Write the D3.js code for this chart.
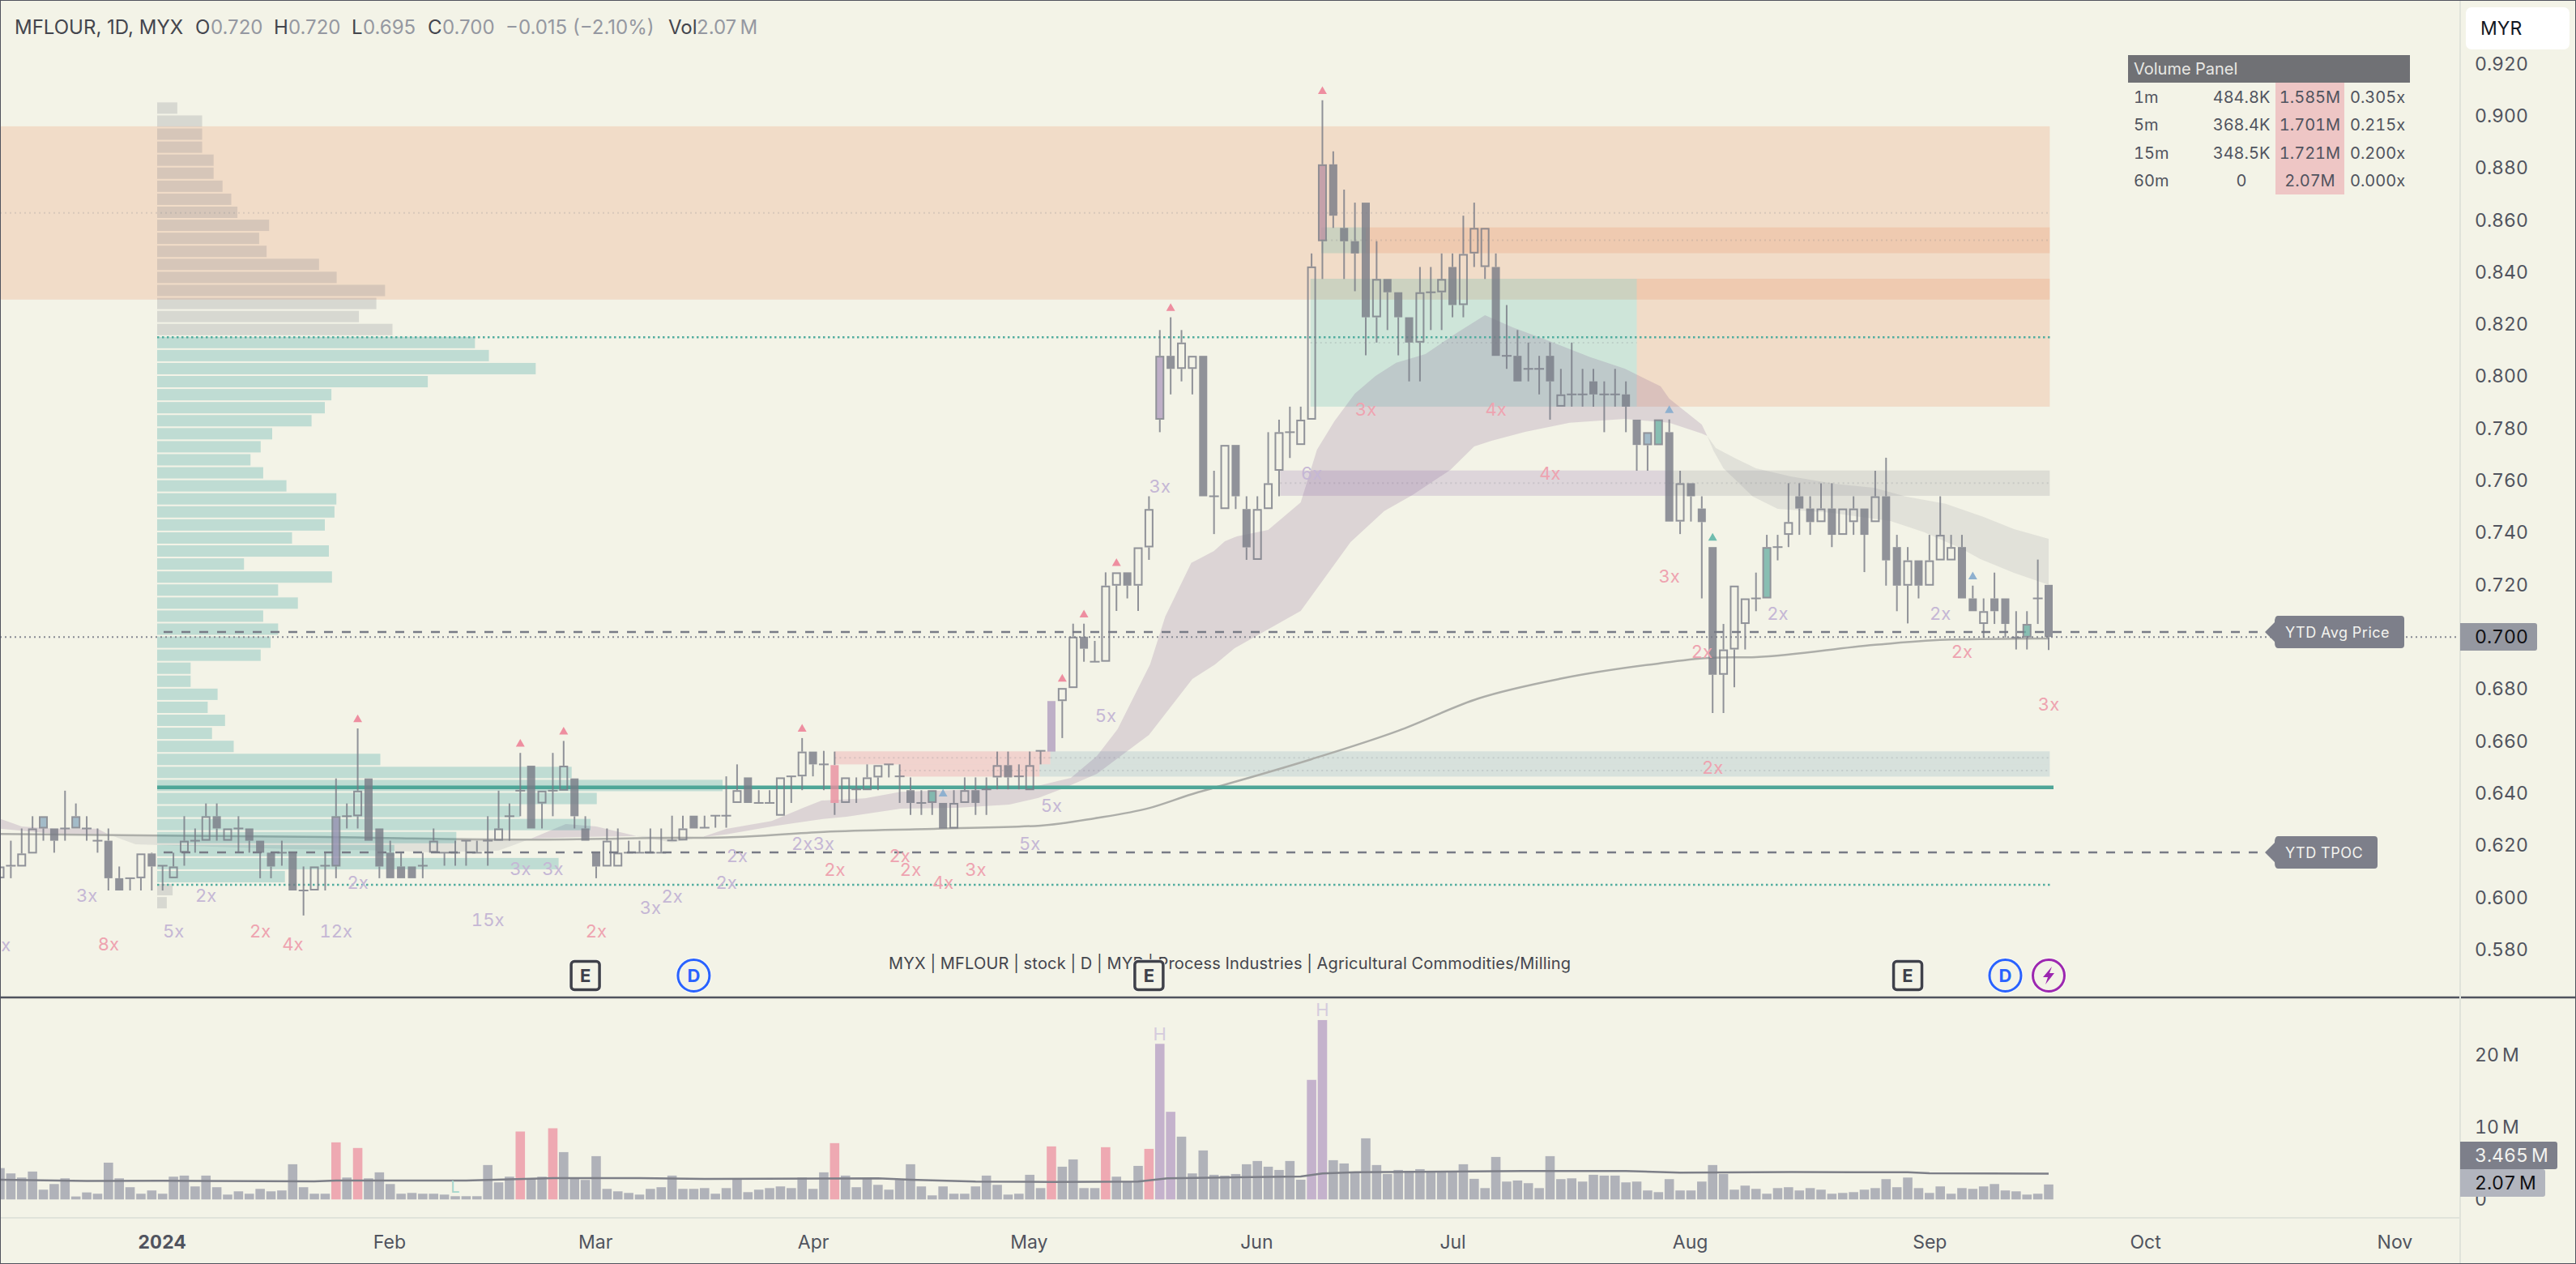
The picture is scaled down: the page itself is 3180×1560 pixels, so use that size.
<!DOCTYPE html>
<html>
<head>
<meta charset="utf-8">
<script src="https://cdnjs.cloudflare.com/ajax/libs/d3/7.8.5/d3.min.js"></script>
<style>
html, body { margin: 0; padding: 0; background: #f3f3e7; overflow: hidden; }
text { font-family: Inter, Roboto, sans-serif; font-variant-numeric: tabular-nums; }
text.head { font-variant-numeric: normal; }
</style>
</head>
<body>
<script>
// daily candles, adjusted prices, index = bar number
var opens = [
 .6074,.6119,.6119,.6169,.6265,.6265,.6265,.6265,.6265,.6218,
 .6218,.6074,.6074,.6074,.6169,.6122,.6074,.6172,.6218,.6218,
 .6312,.6218,.6265,.6265,.6218,.6172,.6172,.6172,.6027,.6027,
 .6122,.6119,.6312,.6312,.6457,.6265,.6172,.6119,.6119,.6122,
 .6172,.6172,.6172,.6218,.6172,.6218,.6218,.6312,.6410,.6506,
 .6361,.6410,.6410,.6457,.6265,.6172,.6119,.6119,.6172,.6172,
 .6172,.6172,.6219,.6219,.6314,.6268,.6314,.6314,.6363,.6461,
 .6363,.6363,.6314,.6465,.6465,.6560,.6511,.6508,.6363,.6415,
 .6412,.6461,.6511,.6465,.6412,.6363,.6363,.6363,.6265,.6363,
 .6412,.6415,.6461,.6508,.6465,.6412,.6563,.6754,.6754,.6804,
 .7001,.6905,.6905,.7197,.7248,.7197,.7344,.7834,.8079,.8029,
 .8029,.8079,.7540,.7491,.7737,.7491,.7296,.7491,.7638,.7786,
 .7737,.7834,.8519,.8814,.8570,.8519,.8667,.8227,.8374,.8323,
 .8227,.8130,.8323,.8323,.8420,.8274,.8472,.8420,.8420,.8079,
 .8079,.8029,.8029,.8079,.7884,.7931,.7931,.7981,.7931,.7931,
 .7931,.7834,.7736,.7736,.7786,.7443,.7590,.7493,.7345,.6855,
 .6952,.7050,.7148,.7148,.7345,.7392,.7540,.7493,.7441,.7493,
 .7392,.7441,.7493,.7441,.7540,.7345,.7197,.7294,.7197,.7294,
 .7294,.7345,.7148,.7050,.7148,.7148,.6998,.6998,.7148,.7200];
var highs = [
 .6119,.6218,.6265,.6312,.6312,.6265,.6410,.6361,.6312,.6265,
 .6265,.6119,.6074,.6169,.6172,.6122,.6172,.6312,.6265,.6361,
 .6361,.6265,.6312,.6265,.6218,.6172,.6218,.6172,.6119,.6119,
 .6172,.6457,.6361,.6649,.6457,.6265,.6218,.6172,.6119,.6172,
 .6265,.6172,.6218,.6218,.6218,.6312,.6410,.6361,.6555,.6506,
 .6410,.6555,.6601,.6457,.6312,.6172,.6265,.6265,.6218,.6218,
 .6265,.6265,.6314,.6314,.6314,.6314,.6314,.6465,.6511,.6461,
 .6412,.6412,.6461,.6465,.6612,.6560,.6563,.6560,.6461,.6461,
 .6511,.6508,.6511,.6511,.6461,.6412,.6412,.6363,.6412,.6461,
 .6461,.6461,.6560,.6560,.6511,.6560,.6563,.6754,.6804,.7051,
 .7051,.6985,.7248,.7248,.7248,.7344,.7540,.8178,.8227,.8178,
 .8079,.8079,.7638,.7737,.7737,.7540,.7540,.7786,.7834,.7884,
 .7884,.8472,.9060,.8864,.8717,.8667,.8667,.8519,.8374,.8323,
 .8227,.8420,.8420,.8472,.8472,.8617,.8667,.8570,.8472,.8274,
 .8178,.8130,.8079,.8130,.8029,.8130,.8029,.8029,.7981,.8029,
 .7981,.7834,.7786,.7835,.7835,.7638,.7590,.7540,.7345,.7050,
 .7197,.7148,.7247,.7392,.7392,.7590,.7590,.7540,.7590,.7590,
 .7493,.7540,.7493,.7638,.7688,.7392,.7345,.7294,.7392,.7540,
 .7392,.7392,.7197,.7148,.7247,.7148,.7099,.7099,.7297,.7200];
var lows = [
 .6074,.6074,.6119,.6169,.6218,.6172,.6218,.6265,.6218,.6172,
 .6027,.6027,.6027,.6027,.6027,.6027,.6074,.6122,.6172,.6218,
 .6218,.6218,.6172,.6172,.6074,.6074,.6122,.6027,.5931,.6027,
 .6027,.6074,.6265,.6265,.6218,.6074,.6074,.6074,.6074,.6074,
 .6172,.6122,.6122,.6122,.6172,.6122,.6218,.6218,.6312,.6265,
 .6265,.6312,.6410,.6265,.6218,.6074,.6119,.6119,.6172,.6172,
 .6172,.6172,.6219,.6219,.6265,.6268,.6268,.6268,.6363,.6363,
 .6363,.6363,.6314,.6363,.6412,.6465,.6412,.6317,.6363,.6363,
 .6412,.6412,.6461,.6363,.6317,.6317,.6317,.6265,.6265,.6363,
 .6317,.6317,.6415,.6415,.6415,.6412,.6511,.6560,.6612,.6804,
 .6905,.6905,.6905,.7100,.7148,.7100,.7296,.7786,.7931,.7981,
 .7931,.7540,.7395,.7491,.7491,.7296,.7296,.7491,.7540,.7687,
 .7737,.7834,.8374,.8570,.8374,.8327,.8081,.8130,.8178,.8081,
 .7981,.7981,.8178,.8178,.8227,.8227,.8420,.8374,.8079,.8029,
 .7981,.7981,.7931,.7834,.7884,.7884,.7884,.7884,.7786,.7884,
 .7786,.7638,.7638,.7736,.7443,.7395,.7443,.7148,.6708,.6708,
 .6807,.6952,.7099,.7148,.7294,.7345,.7392,.7392,.7441,.7345,
 .7392,.7392,.7249,.7441,.7197,.7099,.7052,.7148,.7197,.7294,
 .7294,.7148,.7099,.6998,.7050,.6998,.6952,.6952,.7050,.6950];
var closes = [
 .6119,.6122,.6169,.6265,.6312,.6218,.6265,.6312,.6265,.6218,
 .6074,.6027,.6074,.6169,.6119,.6122,.6119,.6218,.6218,.6312,
 .6265,.6265,.6265,.6218,.6172,.6119,.6172,.6027,.6027,.6119,
 .6122,.6312,.6312,.6410,.6218,.6119,.6074,.6074,.6074,.6122,
 .6218,.6172,.6172,.6218,.6172,.6218,.6265,.6312,.6410,.6265,
 .6410,.6410,.6506,.6312,.6218,.6119,.6218,.6172,.6172,.6172,
 .6172,.6172,.6219,.6265,.6265,.6268,.6314,.6314,.6412,.6363,
 .6363,.6363,.6461,.6465,.6560,.6511,.6511,.6363,.6461,.6415,
 .6461,.6508,.6511,.6465,.6363,.6363,.6412,.6265,.6363,.6412,
 .6363,.6415,.6508,.6461,.6465,.6508,.6563,.6560,.6804,.7001,
 .6955,.6905,.7197,.7248,.7197,.7344,.7491,.8079,.8029,.8130,
 .8079,.7540,.7540,.7737,.7540,.7344,.7491,.7590,.7786,.7786,
 .7834,.8422,.8814,.8617,.8519,.8472,.8227,.8374,.8323,.8227,
 .8130,.8323,.8323,.8374,.8274,.8470,.8570,.8570,.8079,.8079,
 .7981,.8029,.8029,.7981,.7931,.7931,.7931,.7931,.7931,.7931,
 .7884,.7737,.7786,.7835,.7443,.7590,.7540,.7441,.6855,.6952,
 .7197,.7148,.7148,.7345,.7345,.7441,.7493,.7441,.7493,.7392,
 .7493,.7493,.7392,.7540,.7294,.7197,.7294,.7197,.7294,.7392,
 .7345,.7148,.7099,.7099,.7099,.7050,.6998,.7050,.7148,.7000];
// volume in millions
var volumes = [
 4.34,3.60,3.03,3.86,1.35,2.13,2.92,.41,.97,.79,
 5.09,2.92,1.69,.79,1.24,.79,3.15,3.30,1.80,3.30,
 1.69,.67,1.12,.79,1.46,1.12,1.24,4.87,1.69,.79,
 .79,7.90,3.03,7.12,2.92,3.75,2.13,.79,.90,.79,
 .79,.67,.45,.45,.45,4.76,2.36,3.15,9.40,2.92,
 3.15,9.85,6.55,2.92,2.70,5.99,1.46,1.12,.90,.67,
 1.46,1.69,3.30,1.46,1.46,1.57,.79,1.57,2.81,1.01,
 1.35,1.57,1.80,1.57,3.03,1.46,3.75,7.79,3.30,1.69,
 2.92,2.02,1.35,2.70,4.87,1.80,.56,1.80,.79,.79,
 1.80,3.30,2.02,.67,.79,3.41,1.57,7.34,4.53,5.54,
 1.57,1.57,7.23,3.15,2.47,4.64,7.00,21.54,12.13,8.69,
 3.60,6.78,3.41,3.30,3.52,4.87,5.32,4.53,4.08,5.32,
 2.73,16.55,24.83,5.43,4.98,3.63,8.46,4.76,3.52,4.08,
 3.97,4.19,3.86,3.75,3.75,4.87,2.85,1.57,5.88,2.47,
 2.62,2.25,1.57,5.99,2.81,2.92,2.47,3.41,3.30,3.30,
 2.36,2.47,1.24,1.01,2.81,1.24,1.24,2.47,4.76,3.52,
 1.35,1.91,1.46,.79,1.57,1.69,1.24,1.57,1.35,.79,
 .90,1.01,1.35,1.57,2.81,1.69,3.03,1.57,.90,1.80,
 .79,1.57,1.46,1.80,2.13,1.24,1.12,.67,.79,2.07];
var pinkVolumeBars = [31,33,48,51,77,97,102,106];
var purpleVolumeBars = [107,108,121,122];
var volMa = [[0,2.73],[8,2.55],[15,2.58],[29,2.5],[31,2.62],[43,2.62],[51,2.96],[59,2.96],[65,2.85],[81,2.92],
 [84,2.73],[90,2.47],[97,2.43],[105,2.47],[107.7,2.92],[120,3.18],[122,3.6],[125,3.75],[140.5,3.93],[150,3.93],
 [155,3.71],[165.3,3.78],[176,3.75],[178,3.63],[189,3.56]];

var blueBars = [4,7,152];
var tealBars = [86,153,163,187];
var slateBars = [31];
var purpleBars = [97,107];
var pinkBars = [77];
var mauveBars = [122];

var smaLine = [[0,.6244],[15,.6238],[30,.6232],[48,.6222],[60,.6228],[67,.6231],[76,.6252],[86.5,.6264],[96,.6276],
 [101,.6304],[106,.6343],[110,.6397],[112,.6421],[121,.6531],[129,.6640],[136.4,.6764],[144,.6840],[153,.6898],
 [158,.6920],[162,.6923],[173,.6970],[180,.6990],[189,.6994]];

// ribbon outlines: [bar, price]
var ribbonPurpleUpper = [[64.8,.6232],[67,.6263],[71.2,.6294],[74.1,.6344],[75.8,.6372],[79.8,.6381],[83.1,.6406],
 [95.1,.6422],[98.8,.6459],[101.2,.6543],[103.1,.6646],[106.1,.6895],[107.5,.7078],[109.9,.7284],[112,.7330],
 [113,.7367],[114.1,.7386],[117,.7411],[120,.7517],[121.5,.7719],[123.1,.7828],[125,.7934],[126.9,.8002],
 [128.8,.8052],[131.5,.8086],[134.5,.8170],[137,.8235],[139.5,.8189],[142.9,.8136],[146.7,.8074],[149.9,.8030],
 [153.2,.7962],[154,.7915],[157,.7815],[157.5,.7772]];
var ribbonPurpleLower = [[64.8,.6232],[67,.6242],[71.2,.6273],[75.8,.6301],[78.1,.6310],[83.1,.6341],[88.2,.6344],
 [93.1,.6357],[95.8,.6382],[98.1,.6419],[101.2,.6475],[106,.6624],[110,.6839],[112.1,.6895],[113.9,.6957],
 [120,.7100],[124.6,.7364],[127.7,.7483],[130.3,.7545],[133.8,.7641],[136,.7731],[137.6,.7753],[140.7,.7787],
 [144.8,.7822],[149.9,.7837],[154,.7822],[157,.7781],[157.5,.7772]];
var ribbonGreyUpper = [[157.5,.7772],[158.3,.7725],[160,.7688],[162,.7647],[165.2,.7616],[169.2,.7588],[172.9,.7573],
 [175.8,.7539],[179.5,.7511],[183,.7461],[185.8,.7414],[189,.7377]];
var ribbonGreyLower = [[157.5,.7772],[158.1,.7713],[159,.7647],[161.7,.7539],[164,.7492],[168.9,.7477],[174.4,.7445],
 [177.5,.7402],[180.9,.7340],[182.7,.7299],[185.8,.7246],[189,.7200]];
var ribbonEarlyAUpper = [[0,.6302],[2,.6273],[5,.6264],[9,.6264],[10,.6242]];
var ribbonEarlyALower = [[0,.6264],[5,.6245],[10,.6242]];
var ribbonEarlyBUpper = [[10,.6242],[30,.6232],[49,.6226]];
var ribbonEarlyBLower = [[10,.6242],[12.5,.6204],[27,.6186],[36,.6180],[40,.6173],[46,.6180],[49,.6226]];
var ribbonEarlyCUpper = [[49,.6226],[52.2,.6282],[55,.6273],[58.7,.6236]];
var ribbonEarlyCLower = [[49,.6226],[53.4,.6232],[58.7,.6236]];
var ribbonEarlyDUpper = [[58.7,.6236],[64.8,.6232]];
var ribbonEarlyDLower = [[58.7,.6236],[62,.6211],[64.8,.6232]];

// volume by price, rows go down from the top price
var profileTop = 0.903;
var profileStep = 0.005;
var profileVolume = [
 24.9,55.5,55.5,55.5,69.7,69.7,80.7,91.5,99.1,138.2,125.9,135.1,199.8,221.6,281.3,270.6,249.1,290.5,
 392.3,409.5,467.3,334.1,215.1,207,190.6,142,127.8,115.2,130.9,159.6,221.2,218.9,207,166.5,212,107.2,
 215.8,149.3,173.7,130.9,149.3,140.1,127.8,41.3,41.3,74.6,62.4,83.8,67.7,94.5,275.5,511.7,698,542.7,
 447.8,535,369.3,292.8,495.6,157.7,19.1,11.9];
var profileValueAreaStart = 18;
var profileValueAreaEnd = 59;

// zones: from bar, to bar, top price, bottom price
var zoneStart = [0,126,121.9,151,120.9,118.1,154.3,77,83,96.9,95.9];
var zoneEnd = [189.1,189.1,126,189.1,151,154.3,189.1,96.9,95.9,189.1,189.1];
var zoneTop = [.8960,.8572,.8572,.8375,.8375,.7639,.7639,.6561,.6511,.6561,.6511];
var zoneBottom = [.8295,.8473,.8473,.7884,.7884,.7542,.7542,.6511,.6464,.6511,.6464];
var zoneFill = ["orange","orange","green","orange","green","purple","grey","pink","pink","blue","blue"];

var markerPink = [33,48,52,74,98,100,103,108,122];
var markerBlue = [87,154,182];
var markerTeal = [158];

var labelBars = [0,8,10,16,19,24,27,31,33,45,48,51,55,60,62,67,68,74,76,77,83,84,87,90,95,97,102,107,121,126,138,143,154,157,158,164,179,181,189];
var labelPrices = [.5817,.6008,.5820,.5872,.6008,.5872,.5820,.5872,.6059,.5915,.6111,.6111,.5872,.5962,.6006,.6059,.6159,.6208,.6208,.6109,.6159,.6109,.6059,.6109,.6208,.6354,.6699,.7579,.7629,.7874,.7874,.7629,.7232,.6945,.6500,.7091,.7091,.6945,.6742];
var labelTexts = ["3x","3x","8x","5x","2x","2x","4x","12x","2x","15x","3x","3x","2x","3x","2x","2x","2x","2x","3x","2x","2x","2x","4x","3x","5x","5x","5x","3x","6x","3x","4x","4x","3x","2x","2x","2x","2x","2x","3x"];
var labelPink = [10,24,27,55,77,83,84,87,90,126,138,143,154,157,158,181,189];

var priceTicks = [0.92,0.90,0.88,0.86,0.84,0.82,0.80,0.78,0.76,0.74,0.72,0.70,0.68,0.66,0.64,0.62,0.60,0.58];
var volumeTicks = [0,10,20];
var monthBars = [14.9,35.9,54.9,75,94.9,115.9,134,155.9,178,197.9,220.9];
var monthLabels = ["2024","Feb","Mar","Apr","May","Jun","Jul","Aug","Sep","Oct","Nov"];

var earningsBars = [54,106,176];
var dividendBars = [64,185];
var splashBars = [189];

var panelRows = ["1m","5m","15m","60m"];
var panelLower = ["484.8K","368.4K","348.5K","0"];
var panelHigher = ["1.585M","1.701M","1.721M","2.07M"];
var panelRatio = ["0.305x","0.215x","0.200x","0.000x"];

var pocPrice = 0.6423, vahPrice = 0.8150, valPrice = 0.6049;
var ytdAvgPrice = 0.7019, ytdTpocPrice = 0.6173, lastPrice = 0.700;

var W = 3180, H = 1560, axisX = 3037, paneBottom = 1231, volBottom = 1503;
var BG = "#f3f3e7", CANDLE = "#787b86";

var svg = d3.select("body").append("svg").attr("width", W).attr("height", H).style("display", "block");
svg.append("rect").attr("width", W).attr("height", H).attr("fill", BG);

var x = d3.scaleLinear().domain([0, 189]).range([0, 2529]);
var y = d3.scaleLinear().domain([0.56165, 0.94448]).range([paneBottom, 0]);
var v = d3.scaleLinear().domain([0, 20]).range([1480.3, 1302]);
var profileX = d3.scaleLinear().domain([0, 698]).range([194, 892]);

var zoneColors = {
    orange: "rgba(233,128,81,0.2)",
    green: "rgba(38,166,154,0.18)",
    purple: "rgba(120,80,160,0.18)",
    grey: "rgba(120,123,134,0.18)",
    pink: "rgba(233,83,111,0.2)",
    blue: "rgba(103,153,181,0.2)"
};

// zones
zoneStart.forEach(function(s, i){
    svg.append("rect")
	.attr("x", x(s))
	.attr("y", y(zoneTop[i]))
	.attr("width", x(zoneEnd[i]) - x(s))
	.attr("height", y(zoneBottom[i]) - y(zoneTop[i]))
	.attr("fill", zoneColors[zoneFill[i]]);
    if (i == 3) return;
    svg.append("line")
	.attr("x1", x(s)).attr("x2", x(zoneEnd[i]))
	.attr("y1", y((zoneTop[i] + zoneBottom[i]) / 2))
	.attr("y2", y((zoneTop[i] + zoneBottom[i]) / 2))
	.attr("stroke", "#787b86").attr("stroke-opacity", 0.2)
	.attr("stroke-width", 2).attr("stroke-dasharray", "2 4");
});

// ribbon
var outline = d3.line().x(function(d){ return x(d[0]); }).y(function(d){ return y(d[1]); });
function ribbon(upper, lower, color){
    svg.append("path")
	.attr("d", outline(upper.concat(lower.slice().reverse())) + "Z")
	.attr("fill", color);
}
ribbon(ribbonPurpleUpper, ribbonPurpleLower, "rgba(120,80,140,0.19)");
ribbon(ribbonGreyUpper, ribbonGreyLower, "rgba(120,123,134,0.14)");
ribbon(ribbonEarlyAUpper, ribbonEarlyALower, "rgba(120,80,140,0.19)");
ribbon(ribbonEarlyBUpper, ribbonEarlyBLower, "rgba(120,123,134,0.14)");
ribbon(ribbonEarlyCUpper, ribbonEarlyCLower, "rgba(120,80,140,0.19)");
ribbon(ribbonEarlyDUpper, ribbonEarlyDLower, "rgba(120,123,134,0.14)");

svg.append("path")
    .attr("d", d3.line().curve(d3.curveMonotoneX)
	  .x(function(d){ return x(d[0]); }).y(function(d){ return y(d[1]); })(smaLine))
    .attr("fill", "none")
    .attr("stroke", "#adaea9").attr("stroke-width", 2.5);

// volume profile
svg.append("g").selectAll("rect").data(profileVolume).enter().append("rect")
    .attr("x", profileX(0))
    .attr("y", function(d, i){ return y(profileTop - i * profileStep) - 7; })
    .attr("width", function(d){ return profileX(d) - profileX(0); })
    .attr("height", 14)
    .attr("fill", function(d, i){
	return i >= profileValueAreaStart && i <= profileValueAreaEnd
	    ? "rgba(34,150,150,0.25)" : "rgba(120,123,134,0.22)";
    });

// levels
function level(price, x1, x2, color, width, dash){
    svg.append("line").attr("x1", x1).attr("x2", x2)
	.attr("y1", y(price)).attr("y2", y(price))
	.attr("stroke", color).attr("stroke-width", width)
	.attr("stroke-dasharray", dash);
}
level(vahPrice, 194, 2534, "#52ad9f", 2.5, "2.5 3.5");
level(valPrice, 194, 2534, "#52ad9f", 2.5, "2.5 3.5");
level(pocPrice, 194, 2535, "#4fa698", 4.5, null);
level(lastPrice, 0, axisX, "#878993", 2, "2 4");
level(ytdAvgPrice, 202, 2790, "#787b86", 2.5, "11 11");
level(ytdTpocPrice, 202, 2790, "#787b86", 2.5, "11 11");

// volume bars
svg.append("g").selectAll("rect").data(volumes).enter().append("rect")
    .attr("x", function(d, i){ return x(i) - 5.8; })
    .attr("y", function(d){ return v(d); })
    .attr("width", 11.6)
    .attr("height", function(d){ return v(0) - v(d); })
    .attr("fill", function(d, i){
	if (pinkVolumeBars.indexOf(i) >= 0) return "#eea9b2";
	if (purpleVolumeBars.indexOf(i) >= 0) return "#c4b2cc";
	return "#b0b2b9";
    });
svg.append("path")
    .attr("d", d3.line().x(function(d){ return x(d[0]); }).y(function(d){ return v(d[1]); })(volMa))
    .attr("fill", "none").attr("stroke", "#7d7f88").attr("stroke-width", 2.5);

// candles
var candles = svg.append("g").attr("opacity", 0.8);
closes.forEach(function(c, i){
    var o = opens[i], cx = x(i), top = y(Math.max(o, c)), bot = y(Math.min(o, c));
    var hollow = c >= o;
    // the wick stops at the body so hollow candles stay see through
    [[highs[i], Math.max(o, c)], [Math.min(o, c), lows[i]]].forEach(function(w){
	candles.append("line").attr("x1", cx).attr("x2", cx)
	    .attr("y1", y(w[0])).attr("y2", y(w[1]))
	    .attr("stroke", CANDLE).attr("stroke-width", 2);
    });
    if (Math.abs(o - c) < 0.001){
	candles.append("line").attr("x1", cx - 6).attr("x2", cx + 6)
	    .attr("y1", top).attr("y2", top)
	    .attr("stroke", CANDLE).attr("stroke-width", 2);
	return;
    }
    var fill = hollow ? "none" : CANDLE;
    if (blueBars.indexOf(i) >= 0) fill = "#90aec1";
    if (tealBars.indexOf(i) >= 0) fill = "#6eb2a6";
    if (slateBars.indexOf(i) >= 0) fill = "#9590b1";
    if (purpleBars.indexOf(i) >= 0) fill = "#b29fc0";
    if (pinkBars.indexOf(i) >= 0) fill = "#ea8f9f";
    if (mauveBars.indexOf(i) >= 0) fill = "#bb93a3";
    candles.append("rect")
	.attr("x", cx - (hollow ? 4.5 : 5)).attr("y", hollow ? top + 1 : top)
	.attr("width", hollow ? 9 : 10).attr("height", hollow ? bot - top - 2 : bot - top)
	.attr("fill", fill)
	.attr("stroke", hollow ? CANDLE : "none").attr("stroke-width", 2);
});

// signal triangles
function markers(bars, color){
    bars.forEach(function(b){
	svg.append("path")
	    .attr("d", d3.symbol().type(d3.symbolTriangle).size(52)())
	    .attr("transform", "translate(" + x(b) + "," + (y(highs[b]) - 11) + ")")
	    .attr("fill", color);
    });
}
markers(markerPink, "#ee8ea0");
markers(markerBlue, "#8eb0cf");
markers(markerTeal, "#6fbcae");

// multiples
svg.append("g").selectAll("text").data(labelTexts).enter().append("text")
    .attr("x", function(d, i){ return x(labelBars[i]); })
    .attr("y", function(d, i){ return y(labelPrices[i]); })
    .attr("dy", "0.36em")
    .attr("text-anchor", "middle")
    .attr("font-size", 22)
    .attr("fill", function(d, i){
	return labelPink.indexOf(labelBars[i]) >= 0 ? "#eea3b0" : "#c5b7d5";
    })
    .text(function(d){ return d; });

// H / L marks on volume
[[107, 1276, "H"], [122, 1246, "H"]].forEach(function(m){
    svg.append("text").attr("x", x(m[0])).attr("y", m[1]).attr("dy", "0.36em")
	.attr("text-anchor", "middle").attr("font-size", 22).attr("fill", "#d5cbdd").text(m[2]);
});
svg.append("text").attr("x", x(42)).attr("y", 1465).attr("dy", "0.36em")
    .attr("text-anchor", "middle").attr("font-size", 20).attr("fill", "#a6d7cc").text("L");

// info line under the candles
svg.append("text").attr("x", 1097).attr("y", 1189).attr("dy", "0.36em")
    .attr("font-size", 20).attr("fill", "#43454d").attr("textLength", 842)
    .text("MYX | MFLOUR | stock | D | MYR | Process Industries | Agricultural Commodities/Milling");

// event badges
function earnings(b){
    svg.append("rect").attr("x", x(b) - 20).attr("y", 1184).attr("width", 40).attr("height", 40).attr("rx", 6)
	.attr("fill", "#fbfbf6");
    svg.append("rect").attr("x", x(b) - 17.5).attr("y", 1186.5).attr("width", 35).attr("height", 35).attr("rx", 4)
	.attr("fill", BG).attr("stroke", "#3f414a").attr("stroke-width", 3.5);
    svg.append("text").attr("x", x(b)).attr("y", 1204).attr("dy", "0.36em").attr("text-anchor", "middle")
	.attr("font-size", 22).attr("font-weight", 700).attr("fill", "#3f414a").text("E");
}
earningsBars.forEach(earnings);
function badge(b, color){
    svg.append("circle").attr("cx", x(b)).attr("cy", 1204).attr("r", 22).attr("fill", "#fbfbf6");
    svg.append("circle").attr("cx", x(b)).attr("cy", 1204).attr("r", 19.5)
	.attr("fill", BG).attr("stroke", color).attr("stroke-width", 3);
}
dividendBars.forEach(function(b){
    badge(b, "#2962ff");
    svg.append("text").attr("x", x(b)).attr("y", 1204).attr("dy", "0.36em").attr("text-anchor", "middle")
	.attr("font-size", 22).attr("font-weight", 700).attr("fill", "#2962ff").text("D");
});
splashBars.forEach(function(b){
    badge(b, "#9c27b0");
    svg.append("path").attr("transform", "translate(" + x(b) + ",1204)")
	.attr("d", "M4,-11L-7,2L-1,2L-4,11L7,-3L1,-3Z").attr("fill", "#9c27b0");
});

// YTD flags
function flag(price, right, text){
    var yy = y(price), g = svg.append("g");
    g.append("path")
	.attr("d", "M2796," + yy + "L2808," + (yy - 12) + "Q2808," + (yy - 20) + " 2812," + (yy - 20)
	      + "L" + (right - 4) + "," + (yy - 20) + "Q" + right + "," + (yy - 20) + " " + right + "," + (yy - 16)
	      + "L" + right + "," + (yy + 16) + "Q" + right + "," + (yy + 20) + " " + (right - 4) + "," + (yy + 20)
	      + "L2812," + (yy + 20) + "Q2808," + (yy + 20) + " 2808," + (yy + 12) + "Z")
	.attr("fill", "#7d7f8a");
    g.append("text").attr("x", 2821).attr("y", yy).attr("dy", "0.36em")
	.attr("font-size", 18).attr("fill", "#f3f3ef").attr("letter-spacing", 0.5).text(text);
}
flag(ytdAvgPrice, 2968, "YTD Avg Price");
flag(ytdTpocPrice, 2935, "YTD TPOC");

// volume panel table
svg.append("rect").attr("x", 2627).attr("y", 68).attr("width", 348).attr("height", 34).attr("fill", "#707175");
svg.append("text").attr("x", 2634).attr("y", 85).attr("dy", "0.36em")
    .attr("font-size", 20).attr("fill", "#e8e8e4").text("Volume Panel");
svg.append("rect").attr("x", 2809).attr("y", 102).attr("width", 85).attr("height", 138).attr("fill", "#eec6c5");
panelRows.forEach(function(r, i){
    var ry = 120 + i * 34.2;
    [[2634, "start", r], [2767, "middle", panelLower[i]], [2851.5, "middle", panelHigher[i]], [2935, "middle", panelRatio[i]]]
	.forEach(function(c){
	    svg.append("text").attr("x", c[0]).attr("y", ry).attr("dy", "0.36em")
		.attr("text-anchor", c[1]).attr("font-size", 20).attr("fill", "#50535e").text(c[2]);
	});
});

// panes and axes
svg.append("line").attr("x1", 0).attr("x2", W).attr("y1", paneBottom).attr("y2", paneBottom)
    .attr("stroke", "#50535e").attr("stroke-width", 2.5);
svg.append("line").attr("x1", 0).attr("x2", axisX).attr("y1", volBottom).attr("y2", volBottom)
    .attr("stroke", "#e0e3da").attr("stroke-width", 2);
svg.append("line").attr("x1", axisX).attr("x2", axisX).attr("y1", 0).attr("y2", H)
    .attr("stroke", "#e0e3da").attr("stroke-width", 2);
svg.append("rect").attr("width", W).attr("height", H).attr("fill", "none")
    .attr("stroke", "#50535e").attr("stroke-width", 2);

function styleAxis(g, size){
    g.select(".domain").remove();
    g.selectAll("text").attr("font-family", "Inter, Roboto, sans-serif")
	.attr("font-size", size).attr("fill", "#50535e");
}
svg.append("g").attr("transform", "translate(" + axisX + ",0)")
    .call(d3.axisRight(y).tickValues(priceTicks).tickFormat(d3.format(".3f")).tickSize(0).tickPadding(18))
    .call(styleAxis, 23);
svg.append("g").attr("transform", "translate(" + axisX + ",0)")
    .call(d3.axisRight(v).tickValues(volumeTicks)
	  .tickFormat(function(d){ return d ? d + "\u2009M" : "0"; }).tickSize(0).tickPadding(18))
    .call(styleAxis, 23);
svg.append("g").attr("transform", "translate(0," + volBottom + ")")
    .call(d3.axisBottom(x).tickValues(monthBars)
	  .tickFormat(function(d, i){ return monthLabels[i]; }).tickSize(0).tickPadding(22))
    .call(styleAxis, 23)
    .selectAll("text").attr("font-weight", function(d, i){ return i == 0 ? 700 : 400; });

// axis tags
function tag(yTop, right, height, fill, color, text){
    svg.append("path")
	.attr("d", "M" + axisX + "," + yTop + "H" + (right - 3) + "Q" + right + "," + yTop + " " + right + "," + (yTop + 3)
	      + "V" + (yTop + height - 3) + "Q" + right + "," + (yTop + height) + " " + (right - 3) + "," + (yTop + height)
	      + "H" + axisX + "Z")
	.attr("fill", fill);
    svg.append("text").attr("x", 3055).attr("y", yTop + height / 2).attr("dy", "0.36em")
	.attr("font-size", 23).attr("fill", color).text(text);
}
tag(769, 3132, 34, "#9598a1", "#0f0f12", "0.700");
tag(1409, 3157, 34, "#7d7f8a", "#f3f3ef", "3.465\u2009M");
tag(1443, 3142, 34, "#b2b5be", "#0f0f12", "2.07\u2009M");

// currency button
svg.append("rect").attr("x", 3044).attr("y", 9).attr("width", 128).attr("height", 52).attr("rx", 7).attr("fill", "#fff");
svg.append("text").attr("x", 3062).attr("y", 35).attr("dy", "0.36em")
    .attr("font-size", 23).attr("fill", "#131722").text("MYR");

// header
var headerTexts = ["MFLOUR, 1D, MYX","O","0.720","H","0.720","L","0.695","C","0.700","\u22120.015 (\u22122.10%)","Vol","2.07\u2009M"];
var headerPos = [18,241,260,338,356,434,448,528,546,624,825,860];
var headerDark = [1,1,0,1,0,1,0,1,0,0,1,0];
headerTexts.forEach(function(t, i){
    svg.append("text").attr("class", "head").attr("x", headerPos[i]).attr("y", 33).attr("dy", "0.36em")
	.attr("font-size", 24)
	.attr("fill", headerDark[i] ? "#43454d" : "#9598a1").text(t);
});
</script>
</body>
</html>
